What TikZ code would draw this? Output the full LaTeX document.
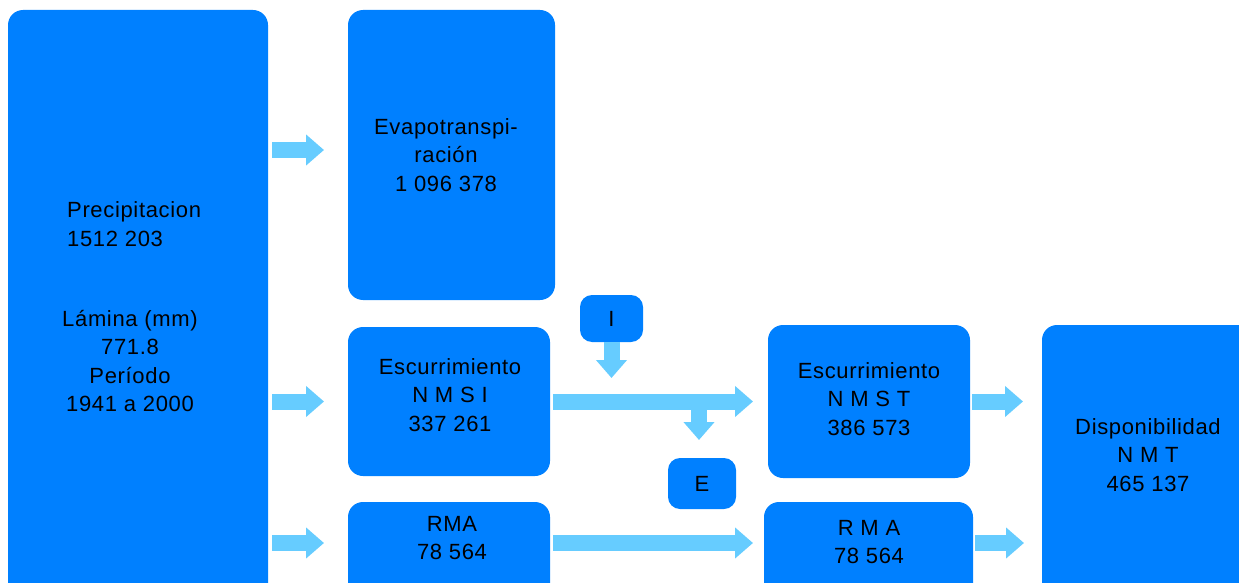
\documentclass[tikz,border=0pt]{standalone}
\usepackage{fontspec}
\setmainfont{Liberation Sans}[LetterSpace=3]
\usetikzlibrary{arrows.meta,calc}
\definecolor{boxblue}{HTML}{0080FF}
\definecolor{flowblue}{HTML}{66CCFF}
\begin{document}
\begin{tikzpicture}[x=1pt,y=-1pt,
    box/.style={fill=boxblue, rounded corners=15pt, inner sep=0pt, outer sep=0pt},
    tag/.style={box, rounded corners=12pt, font=\fontsize{22}{28.5}\selectfont},
    txt/.style={align=center, inner sep=0pt, font=\fontsize{22}{28.5}\selectfont},
    flow/.style={draw=flowblue, line width=16pt, -{Triangle[width=30pt,length=18pt]}}]
    \clip (0,0) rectangle (1239,583);
    % Boxes
    \node[box, minimum width=260pt, minimum height=610pt] (prec) at (138,315) {};
    \node[box, minimum width=207pt, minimum height=290pt] (evap) at (451.5,155) {};
    \node[box, minimum width=202pt, minimum height=149pt] (esci) at (449,401.5) {};
    \node[box, minimum width=202pt, minimum height=98pt] (rma) at (449,551) {};
    \node[box, minimum width=202pt, minimum height=153pt] (escT) at (869,401.5) {};
    \node[box, minimum width=209pt, minimum height=98pt] (rmaT) at (868.5,551) {};
    \node[box, minimum width=210pt, minimum height=315pt] (disp) at (1147,482.5) {};
    \node[tag, minimum width=63pt, minimum height=47pt] (itag) at (611.5,318.5) {I};
    \node[tag, minimum width=68pt, minimum height=51pt] (etag) at (702,483.5) {E};
    % Texts
    \node[txt, align=left, anchor=west] (precT) at (67,224) {Precipitacion\\1512 203};
    \node[txt] (laminaT) at (130,361) {Lámina (mm)\\771.8\\Período\\1941 a 2000};
    \node[txt] (evapT) at (446,155) {Evapotranspi-\\ración\\1 096 378};
    \node[txt] (esciT) at (450,395) {Escurrimiento\\N M S I\\337 261};
    \node[txt] (rmaTxt) at (452,538) {RMA\\78 564};
    \node[txt] (escTT) at (869,399) {Escurrimiento\\N M S T\\386 573};
    \node[txt] (rmaTT) at (869,542) {R M A\\78 564};
    \node[txt] (dispT) at (1148,455) {Disponibilidad\\N M T\\465 137};
    % Flows
    \foreach \dst/\dy in {evap/5pt, esci/0pt, rma/8pt}{
        \draw[flow] ($(prec.east |- \dst.west)+(4pt,\dy)$) -- ($(\dst.west)+(-24pt,\dy)$);
    }
    \draw[flow] ($(esci.east)+(3pt,0pt)$) -- ($(escT.west)+(-15pt,0pt)$);
    \draw[flow] ($(rma.east)+(3pt,8pt)$) -- ($(rmaT.west)+(-11pt,8pt)$);
    \draw[flow] ($(escT.east)+(2pt,0pt)$) -- ($(disp.west |- escT.east)+(-19pt,0pt)$);
    \draw[flow] ($(rmaT.east)+(2pt,8pt)$) -- ($(disp.west |- rmaT.east)+(-18pt,8pt)$);
    \draw[flow] (itag.south) -- ($(itag.south |- esci.east)+(0pt,23.5pt)$);
    \draw[flow] ($(etag.north |- esci.east)+(-3pt,0pt)$) -- ($(etag.north)+(-3pt,18pt)$);
\end{tikzpicture}
\end{document}
